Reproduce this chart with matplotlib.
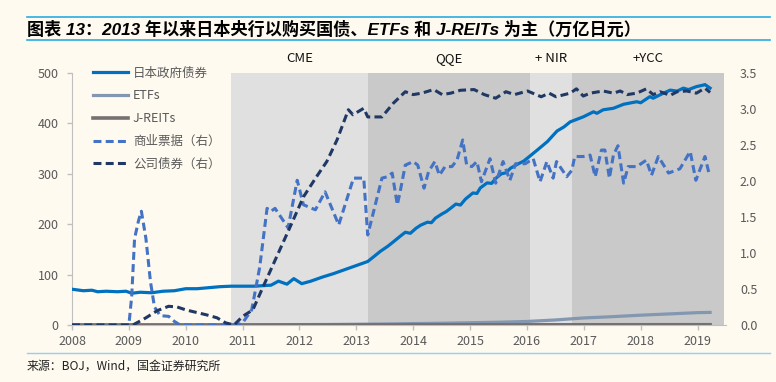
import numpy as np
import matplotlib.pyplot as plt
from matplotlib.lines import Line2D
from matplotlib.transforms import blended_transform_factory

plt.rcParams['font.family'] = ['Noto Sans CJK SC', 'DejaVu Sans']

# 日本政府债券（左轴，万亿日元）
jgb_t = [2008.0, 2008.2, 2008.35, 2008.45, 2008.6, 2008.8, 2008.95, 2009.05, 2009.2, 2009.4,
         2009.6, 2009.8, 2010.0, 2010.2, 2010.4, 2010.6, 2010.8, 2011.0, 2011.2, 2011.5,
         2011.63, 2011.78, 2011.9, 2012.04, 2012.2, 2012.4, 2012.6, 2012.8, 2012.95, 2013.1,
         2013.2, 2013.3, 2013.42, 2013.55, 2013.65, 2013.77, 2013.86, 2013.95, 2014.05, 2014.13,
         2014.25, 2014.32, 2014.39, 2014.5, 2014.58, 2014.65, 2014.75, 2014.83, 2014.92, 2015.05,
         2015.12, 2015.18, 2015.3, 2015.38, 2015.45, 2015.55, 2015.63, 2015.71, 2015.85, 2015.94,
         2016.05, 2016.18, 2016.36, 2016.53, 2016.65, 2016.76, 2016.99, 2017.17, 2017.23, 2017.34,
         2017.52, 2017.7, 2017.93, 2018.0, 2018.16, 2018.22, 2018.4, 2018.52, 2018.64, 2018.75,
         2018.84, 2018.98, 2019.1, 2019.13, 2019.22]
jgb_v = [71, 68, 69, 66, 67, 66, 67, 63, 65, 64,
         67, 68, 72, 72, 74, 76, 77, 77, 77, 79,
         87, 81, 92, 82, 87, 95, 102, 110, 116, 122,
         126, 135, 146, 156, 165, 176, 184, 182, 192, 198,
         204, 203, 212, 220, 225, 231, 240, 238, 250, 262,
         261, 272, 282, 281, 291, 300, 302, 311, 320, 325,
         335, 347, 364, 385, 393, 403, 413, 423, 420, 427,
         430, 438, 443, 441, 453, 450, 460, 466, 464, 470,
         467, 473, 476, 477, 470]

# ETFs（左轴）
etf_t = [2008.0, 2010.85, 2010.9, 2011.5, 2012.0, 2012.5, 2013.0, 2013.5, 2014.0, 2014.5,
         2015.0, 2015.5, 2016.0, 2016.5, 2017.0, 2017.5, 2018.0, 2018.5, 2019.0, 2019.22]
etf_v = [0, 0, 0.1, 0.5, 0.8, 1.0, 1.5, 2.0, 2.8, 3.5,
         4.5, 5.5, 7.0, 10.0, 14.0, 16.5, 19.5, 22.0, 24.5, 25.0]

# J-REITs（左轴）
reit_t = [2008.0, 2010.9, 2013.0, 2016.0, 2019.22]
reit_v = [0, 0.02, 0.15, 0.35, 0.5]

# 商业票据（右轴）
cp_t = [2008.0, 2009.0, 2009.05, 2009.1, 2009.17, 2009.22, 2009.3, 2009.38, 2009.45, 2009.55,
        2009.7, 2009.8, 2009.9, 2010.9, 2011.0, 2011.16, 2011.3, 2011.43, 2011.5, 2011.57,
        2011.8, 2011.96, 2012.07, 2012.28, 2012.45, 2012.69, 2012.95, 2013.13, 2013.2, 2013.45,
        2013.55, 2013.63, 2013.72, 2013.77, 2013.86, 2014.0, 2014.08, 2014.19, 2014.27, 2014.38,
        2014.46, 2014.56, 2014.68, 2014.77, 2014.87, 2014.94, 2015.03, 2015.12, 2015.2, 2015.35,
        2015.45, 2015.58, 2015.7, 2015.8, 2015.97, 2016.11, 2016.23, 2016.35, 2016.46, 2016.52,
        2016.7, 2016.79, 2016.84, 2016.99, 2017.11, 2017.2, 2017.31, 2017.37, 2017.45, 2017.52,
        2017.6, 2017.7, 2017.78, 2017.93, 2018.1, 2018.19, 2018.31, 2018.49, 2018.69, 2018.87,
        2018.97, 2019.13, 2019.2]
cp_v = [0, 0, 0.4, 1.2, 1.45, 1.58, 1.2, 0.6, 0.25, 0.13,
        0.12, 0.05, 0, 0, 0.03, 0.21, 0.8, 1.62, 1.58, 1.62,
        1.35, 2.01, 1.67, 1.6, 1.85, 1.39, 2.04, 2.04, 1.25, 2.04,
        2.06, 2.11, 1.67, 1.85, 2.22, 2.27, 2.22, 1.9, 2.13, 2.27,
        2.08, 2.2, 2.2, 2.29, 2.57, 2.22, 2.2, 2.27, 1.99, 2.31,
        1.97, 2.27, 2.01, 2.24, 2.24, 2.31, 1.99, 2.27, 2.04, 2.27,
        2.06, 2.15, 2.34, 2.34, 2.36, 2.06, 2.43, 2.43, 2.04, 2.36,
        2.49, 1.97, 2.2, 2.2, 2.29, 2.08, 2.34, 2.11, 2.17, 2.41,
        2.01, 2.34, 2.11]

# 公司债券（右轴）
cb_t = [2008.0, 2009.07, 2009.3, 2009.5, 2009.7, 2009.85, 2010.0, 2010.37, 2010.55, 2010.7,
        2010.85, 2011.0, 2011.18, 2011.36, 2011.6, 2011.84, 2012.07, 2012.3, 2012.48, 2012.66,
        2012.86, 2012.94, 2013.13, 2013.2, 2013.45, 2013.65, 2013.86, 2014.0, 2014.15, 2014.36,
        2014.51, 2014.66, 2014.83, 2015.07, 2015.25, 2015.45, 2015.63, 2015.78, 2016.01, 2016.25,
        2016.39, 2016.51, 2016.76, 2016.87, 2016.99, 2017.11, 2017.34, 2017.52, 2017.64, 2017.76,
        2017.93, 2018.1, 2018.22, 2018.34, 2018.52, 2018.64, 2018.81, 2018.98, 2019.13, 2019.22]
cb_v = [0, 0, 0.1, 0.2, 0.26, 0.25, 0.21, 0.14, 0.1, 0.03,
        0, 0.12, 0.21, 0.53, 0.95, 1.37, 1.78, 2.06, 2.27, 2.57,
        2.99, 2.92, 3.01, 2.89, 2.89, 3.08, 3.24, 3.2, 3.22, 3.27,
        3.2, 3.22, 3.26, 3.27, 3.2, 3.15, 3.24, 3.2, 3.25, 3.17,
        3.22, 3.17, 3.22, 3.28, 3.18, 3.22, 3.25, 3.22, 3.25, 3.2,
        3.22, 3.28, 3.2, 3.24, 3.19, 3.24, 3.25, 3.22, 3.29, 3.23]

# 政策阶段
phase_names = ['CME', 'QQE', '+ NIR', '+YCC']
phase_start = [2010.8, 2013.2, 2016.05, 2016.8]
phase_end = [2013.2, 2016.05, 2016.8, 2019.46]
phase_colors = ['#E0E0E0', '#C9C9C9', '#E0E0E0', '#C9C9C9']

bg = '#FEFAF0'
label_gray = '#595959'
axis_gray = '#BFBFBF'

fig = plt.figure(figsize=(7.76, 3.82), dpi=100, facecolor=bg)
ax = fig.add_axes([72/776, 57/382, 654/776, 252/382])
ax.set_facecolor(bg)
ax2 = ax.twinx()

for s, e, c in zip(phase_start, phase_end, phase_colors):
    ax.axvspan(s, e, color=c, lw=0, zorder=0)
trans = blended_transform_factory(ax.transData, ax.transAxes)
for n, s, e in zip(phase_names, phase_start, phase_end):
    ax.text((s + e) / 2, 1.058, n, transform=trans, ha='center', va='center',
            fontsize=9.5, color='#111111')

l1, = ax.plot(jgb_t, jgb_v, color='#0070C0', lw=2.3, label='日本政府债券', zorder=3)
l2, = ax.plot(etf_t, etf_v, color='#8497B0', lw=2.3, label='ETFs', zorder=3)
l3, = ax.plot(reit_t, reit_v, color='#767171', lw=2.6, label='J-REITs', zorder=3)
l4, = ax2.plot(cp_t, cp_v, color='#4472C4', lw=2.2, ls=(0, (2.6, 1.4)), label='商业票据（右）')
l5, = ax2.plot(cb_t, cb_v, color='#203864', lw=2.2, ls=(0, (2.6, 1.4)), label='公司债券（右）')

ax.set_xlim(2008, 2019.5)
ax.set_ylim(0, 500)
ax2.set_ylim(0, 3.5)
ax.set_xticks(range(2008, 2020))
ax.set_yticks(range(0, 501, 100))
ax2.set_yticks(np.arange(0, 3.51, 0.5))
ax2.set_yticklabels([f'{v:.1f}' for v in np.arange(0, 3.51, 0.5)])

for a in (ax, ax2):
    for sp in ['top', 'right', 'left', 'bottom']:
        a.spines[sp].set_visible(False)
ax.spines['left'].set_visible(True)
ax.spines['left'].set_color(axis_gray)
ax.spines['bottom'].set_visible(True)
ax.spines['bottom'].set_color(axis_gray)

ax.tick_params(axis='both', colors=axis_gray, labelcolor=label_gray, labelsize=9, length=3.5, width=1)
ax.tick_params(axis='x', pad=4)
ax.tick_params(axis='y', pad=6)
ax2.tick_params(axis='y', length=0, pad=10, labelcolor=label_gray, labelsize=9)

leg = ax2.legend(handles=[l1, l2, l3, l4, l5], loc='upper left',
                 bbox_to_anchor=((93 - 72) / 654, 1.025), frameon=False,
                 fontsize=9, handlelength=2.8, handletextpad=0.4, labelspacing=0.78,
                 borderpad=0, borderaxespad=0)
for t in leg.get_texts():
    t.set_color(label_gray)

# 标题和来源
fig.add_artist(Line2D([27/776, 770/776], [1 - 17/382] * 2, color='#29ABE2', lw=1.2))
fig.add_artist(Line2D([27/776, 770/776], [1 - 40/382] * 2, color='#29ABE2', lw=1.2))
fig.text(27/776, 1 - 29/382, '图表 13：2013 年以来日本央行以购买国债、ETFs 和 J-REITs 为主（万亿日元）',
         fontsize=12.3, fontweight='bold', fontstyle='italic',
         family=['Liberation Sans', 'Noto Sans CJK SC'], va='center', ha='left')
fig.add_artist(Line2D([27/776, 770/776], [1 - 353/382] * 2, color='#8ED1F0', lw=1.0))
fig.text(27/776, 1 - 366/382, '来源：BOJ，Wind，国金证券研究所', fontsize=8.6, va='center', ha='left',
         color='#222222')

fig.savefig('out.png', dpi=100, facecolor=bg)
